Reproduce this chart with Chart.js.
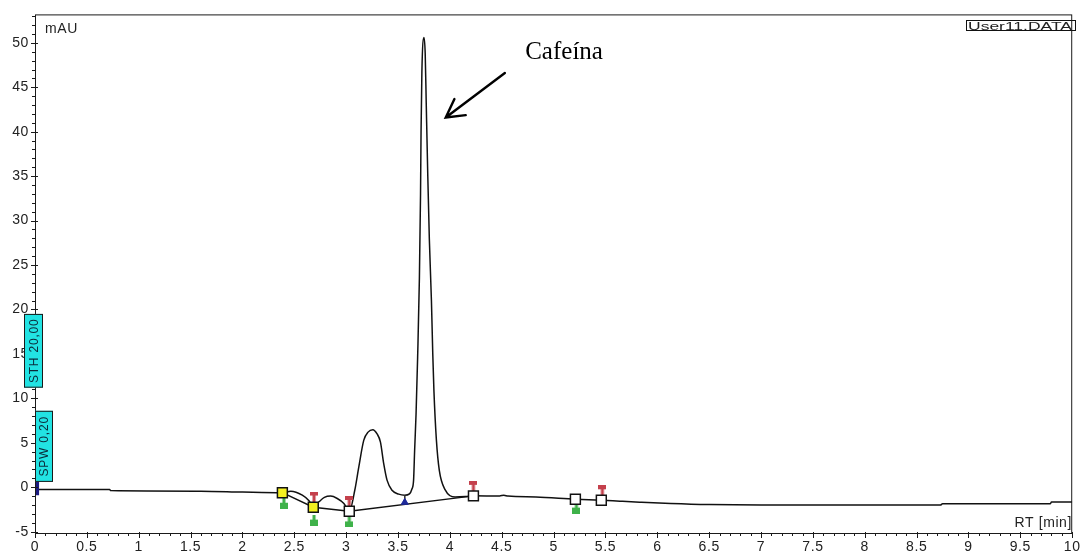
<!DOCTYPE html>
<html>
<head>
<meta charset="utf-8">
<script src="https://cdn.jsdelivr.net/npm/chart.js@4.4.1/dist/chart.umd.min.js"></script>
<style>
  html,body{margin:0;padding:0;background:#fff;}
  #myChart{display:block;}
</style>
</head>
<body>
<canvas id="myChart" width="1086" height="555"></canvas>
<script>
// ***** axis ticks *****
const xTicks=[0,0.5,1,1.5,2,2.5,3,3.5,4,4.5,5,5.5,6,6.5,7,7.5,8,8.5,9,9.5,10];
const yTicks=[-5,0,5,10,15,20,25,30,35,40,45,50];

// ***** signal (RT min / mAU) *****
const sigT=[0.03,0.72,0.73,1.6,2.0,2.385,2.466,2.577,2.642,2.683,2.738,2.79,2.85,2.914,2.978,3.03,
  3.083,3.122,3.17,3.211,3.257,3.298,3.33,3.362,3.394,3.442,3.506,3.565,3.61,3.634,
  3.65,3.66,3.674,3.689,3.706,3.717,3.722,3.73,3.75,3.762,3.772,3.787,3.802,3.822,3.835,3.846,3.87,3.898,3.955,4.05,
  4.15,4.227,4.48,4.52,4.56,4.83,5.21,5.46,5.64,5.83,6.13,6.5,7.0,8.73,8.75,9.79,9.8,10];
const sigV=[-0.26,-0.26,-0.38,-0.45,-0.55,-0.62,-0.45,-0.9,-1.53,-2.25,-1.64,-1.15,-1.0,-1.27,-1.83,-2.7,
  -0.34,2.3,5.3,6.2,6.47,6.0,5.1,2.66,0.8,-0.34,-0.78,-0.9,-0.75,-0.2,
  0.8,4.1,8.3,14.6,23.5,33,40,46.7,50.6,48.8,43.2,35,27.9,21,15,10.9,5.3,1.9,-0.3,-1.1,
  -1.05,-0.97,-0.98,-0.9,-1.0,-1.1,-1.35,-1.46,-1.57,-1.68,-1.83,-1.95,-2.0,-2.0,-1.85,-1.85,-1.65,-1.65];

// ***** integration baseline *****
const baseT=[2.385,2.683,3.03,4.227];
const baseV=[-0.62,-2.25,-2.7,-0.97];
const dropT=[3.565,3.565];
const dropV=[-0.9,-1.9];

// ***** event markers *****
const yellowT=[2.385,2.683];
const yellowV=[-0.62,-2.25];
const squareT=[3.03,4.227,5.21,5.46];
const squareV=[-2.7,-0.97,-1.35,-1.46];
const redT=[2.69,3.03,4.227,5.47];
const redV=[-1.1,-1.6,0.1,-0.4];
const greenT=[2.4,2.69,3.03,5.22];
const greenV=[-1.8,-3.7,-3.9,-2.35];
const blueT=[3.565];
const blueV=[-1.7];
const startT=[0.02,0.02];
const startV=[0.8,-0.9];

const toXY=(t,v)=>t.map((x,i)=>({x:x,y:v[i]}));

// small pin images for start/stop events
function pinImage(color,down){
  const c=document.createElement('canvas');
  c.width=8;c.height=11;
  const g=c.getContext('2d');
  g.fillStyle=color;
  if(down){g.fillRect(0,0,8,4);g.fillRect(2.5,4,3,7);}
  else{g.fillRect(2.5,0,3,5);g.fillRect(0,5,8,6);}
  return c;
}
const redPin=pinImage('#c4404c',true);
const greenPin=pinImage('#3fb24a',false);

const FONT='"Liberation Sans", Arial, sans-serif';

// ***** frame, minor ticks and labels *****
const decorations={
  id:'decorations',
  beforeDraw(chart){
    chart.ctx.letterSpacing='0.6px';
  },
  afterDraw(chart){
    const ctx=chart.ctx;
    const {left,right,top,bottom}=chart.chartArea;
    const xs=chart.scales.x, ys=chart.scales.y;
    ctx.save();
    ctx.strokeStyle='#1a1a1a';
    ctx.lineWidth=1;
    ctx.strokeRect(left+0.5,top+0.5,right-left-1,bottom-top);
    ctx.beginPath();
    for(let i=0;i<=100;i++){
      const px=Math.round(xs.getPixelForValue(i/10))+0.5;
      const major=i%5===0;
      ctx.moveTo(px,bottom-(major?1:0));
      ctx.lineTo(px,bottom+(major?5:3));
    }
    for(let v=-5;v<=53;v++){
      const py=Math.round(ys.getPixelForValue(v))+0.5;
      const major=v%5===0;
      ctx.moveTo(left+(major?3:0),py);
      ctx.lineTo(left-(major?4:3),py);
    }
    ctx.stroke();

    // texts
    ctx.fillStyle='#222';
    ctx.font='14px '+FONT;
    ctx.textBaseline='alphabetic';
    ctx.textAlign='left';
    ctx.fillText('mAU',45,32.5);
    ctx.textAlign='right';
    ctx.fillText('RT [min]',1072,527);

    // data file box
    ctx.letterSpacing='0px';
    ctx.font='11px '+FONT;
    const label='User11.DATA';
    const w=ctx.measureText(label).width;
    ctx.save();
    ctx.translate(968,30);
    ctx.scale(104/w,1);
    ctx.textAlign='left';
    ctx.fillText(label,0,0);
    ctx.restore();
    ctx.strokeStyle='#111';
    ctx.strokeRect(966.5,20.5,109,10);

    // cyan parameter boxes
    ctx.letterSpacing='0.8px';
    const boxes=[
      {text:'STH 20,00',x0:24,x1:43,v0:19.5,v1:11.2},
      {text:'SPW 0,20',x0:35,x1:53,v0:8.6,v1:0.6}
    ];
    boxes.forEach(b=>{
      const y0=ys.getPixelForValue(b.v0), y1=ys.getPixelForValue(b.v1);
      ctx.fillStyle='#22e3e3';
      ctx.fillRect(b.x0,y0,b.x1-b.x0,y1-y0);
      ctx.strokeStyle='#1a1a1a';
      ctx.strokeRect(b.x0+0.5,y0+0.5,b.x1-b.x0-1,y1-y0-1);
      ctx.save();
      ctx.translate((b.x0+b.x1)/2,(y0+y1)/2);
      ctx.rotate(-Math.PI/2);
      ctx.fillStyle='#0c2a3a';
      ctx.font='12px '+FONT;
      ctx.textAlign='center';
      ctx.textBaseline='middle';
      ctx.fillText(b.text,0,1);
      ctx.restore();
    });

    // peak annotation
    ctx.letterSpacing='0px';
    ctx.fillStyle='#000';
    ctx.font='25px "Liberation Serif", "Times New Roman", serif';
    ctx.textAlign='left';
    ctx.textBaseline='alphabetic';
    ctx.fillText('Cafeína',xs.getPixelForValue(4.726),ys.getPixelForValue(48.2));
    const tx=xs.getPixelForValue(4.53), ty=ys.getPixelForValue(46.6);
    const hx=xs.getPixelForValue(3.96), hy=ys.getPixelForValue(41.6);
    ctx.strokeStyle='#000';
    ctx.lineWidth=2.4;
    ctx.lineCap='round';
    ctx.beginPath();
    ctx.moveTo(tx,ty);ctx.lineTo(hx,hy);
    ctx.moveTo(hx+8.7,hy-18.4);ctx.lineTo(hx,hy);ctx.lineTo(hx+20,hy-2.4);
    ctx.stroke();
    ctx.restore();
  }
};

const ctx=document.getElementById('myChart');
new Chart(ctx,{
  type:'line',
  data:{
    datasets:[
      {data:toXY(yellowT,yellowV),showLine:false,pointStyle:'rect',pointRadius:7,backgroundColor:'#f4f020',borderColor:'#111',borderWidth:1.5},
      {data:toXY(squareT,squareV),showLine:false,pointStyle:'rect',pointRadius:7,backgroundColor:'#fff',borderColor:'#111',borderWidth:1.5},
      {data:toXY(redT,redV),showLine:false,pointStyle:redPin},
      {data:toXY(greenT,greenV),showLine:false,pointStyle:greenPin},
      {data:toXY(blueT,blueV),showLine:false,pointStyle:'triangle',pointRadius:4,backgroundColor:'#1e2a9a',borderColor:'#1e2a9a',borderWidth:1},
      {data:toXY(startT,startV),borderColor:'#1a1a80',borderWidth:4,pointRadius:0,clip:false},
      {data:toXY(dropT,dropV),borderColor:'#333',borderWidth:1,pointRadius:0},
      {data:toXY(baseT,baseV),borderColor:'#111',borderWidth:1.4,pointRadius:0},
      {data:toXY(sigT,sigV),borderColor:'#111',borderWidth:1.5,pointRadius:0,cubicInterpolationMode:'monotone'}
    ]
  },
  options:{
    responsive:false,
    animation:false,
    devicePixelRatio:1,
    layout:{padding:{top:12,right:10,left:0,bottom:0}},
    plugins:{legend:{display:false},tooltip:{enabled:false}},
    scales:{
      x:{
        type:'linear',min:0,max:10,
        afterBuildTicks:s=>{s.ticks=xTicks.map(v=>({value:v}));},
        afterFit:s=>{s.height=22;},
        grid:{display:false,drawTicks:false},
        border:{display:false},
        ticks:{padding:6,color:'#222',font:{family:FONT,size:14},maxRotation:0,autoSkip:false,callback:v=>String(v)}
      },
      y:{
        type:'linear',min:-5.15,max:53.2,
        afterBuildTicks:s=>{s.ticks=yTicks.map(v=>({value:v}));},
        afterFit:s=>{s.width=35;},
        grid:{display:false,drawTicks:false},
        border:{display:false},
        ticks:{padding:6,color:'#222',font:{family:FONT,size:14},autoSkip:false,callback:v=>String(v)}
      }
    }
  },
  plugins:[decorations]
});
</script>
</body>
</html>
